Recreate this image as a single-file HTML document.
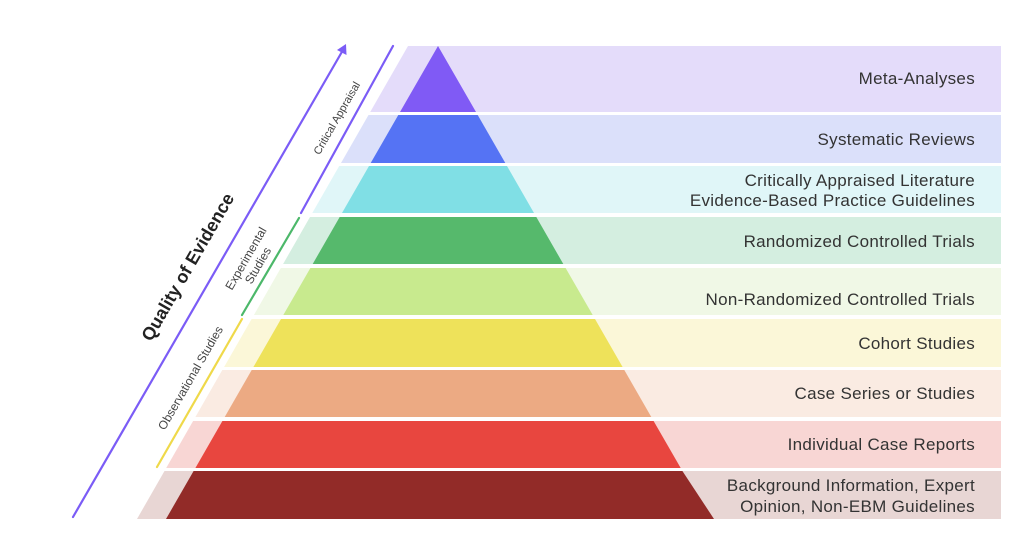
<!DOCTYPE html>
<html><head><meta charset="utf-8"><style>
html,body{margin:0;padding:0;background:#fff;width:1024px;height:560px;overflow:hidden}
svg{display:block}
text{font-family:"Liberation Sans",sans-serif}
</style></head><body>
<svg width="1024" height="560" viewBox="0 0 1024 560" xmlns="http://www.w3.org/2000/svg">
<g>
<polygon points="408,46 1001,46 1001,112 370.2,112" fill="#e4dcfa"/>
<polygon points="438,46 476,112 400,112" fill="#805af5"/>
<polygon points="368.5,115 1001,115 1001,163 341,163" fill="#dbe0fa"/>
<polygon points="398.3,115 477.7,115 505.3,163 370.7,163" fill="#5573f4"/>
<polygon points="339.2,166 1001,166 1001,213 312.3,213" fill="#e0f6f8"/>
<polygon points="369,166 507,166 534,213 342,213" fill="#80dfe5"/>
<polygon points="310,217 1001,217 1001,264 283.1,264" fill="#d4eee0"/>
<polygon points="339.7,217 536.3,217 563.3,264 312.7,264" fill="#56b96c"/>
<polygon points="280.8,268 1001,268 1001,315 253.9,315" fill="#f0f8e6"/>
<polygon points="310.4,268 565.6,268 592.7,315 283.3,315" fill="#c8ea8e"/>
<polygon points="251.6,319 1001,319 1001,367 224.1,367" fill="#fbf7d8"/>
<polygon points="281,319 595,319 622.6,367 253.4,367" fill="#eee25a"/>
<polygon points="222.3,370 1001,370 1001,417 195.4,417" fill="#faebe2"/>
<polygon points="251.7,370 624.3,370 651.3,417 224.7,417" fill="#ecaa83"/>
<polygon points="193.1,421 1001,421 1001,468 166.2,468" fill="#f8d6d4"/>
<polygon points="222.4,421 653.6,421 680.7,468 195.4,468" fill="#e8463f"/>
<polygon points="164.5,471 1001,471 1001,519 137,519" fill="#e8d6d4"/>
<polygon points="193.6,471 682.4,471 714,519 166,519" fill="#922b28"/>
</g>
<g font-size="17" letter-spacing="0.3" fill="#333" text-anchor="end">
<text x="975" y="84">Meta-Analyses</text>
<text x="975" y="145">Systematic Reviews</text>
<text x="975" y="186">Critically Appraised Literature</text>
<text x="975" y="206">Evidence-Based Practice Guidelines</text>
<text x="975" y="247">Randomized Controlled Trials</text>
<text x="975" y="305">Non-Randomized Controlled Trials</text>
<text x="975" y="349">Cohort Studies</text>
<text x="975" y="399">Case Series or Studies</text>
<text x="975" y="450">Individual Case Reports</text>
<text x="975" y="491">Background Information, Expert</text>
<text x="975" y="512">Opinion, Non-EBM Guidelines</text>
</g>
<g stroke-width="2.2" stroke-linecap="round">
<line x1="73" y1="517" x2="343" y2="50" stroke="#7b5cf6"/>
<polygon points="346,44 346.5,55 337,50" fill="#7b5cf6"/>
<line x1="393" y1="46" x2="301" y2="213" stroke="#7b5cf6"/>
<line x1="299" y1="218" x2="242" y2="315" stroke="#4cb86a"/>
<line x1="242" y1="319" x2="157" y2="467" stroke="#efd94a"/>
</g>
<g fill="#444" text-anchor="middle">
<text transform="translate(193,270) rotate(-60)" font-size="18" font-weight="bold" fill="#222">Quality of Evidence</text>
<text transform="translate(340,120) rotate(-60)" font-size="11">Critical Appraisal</text>
<text transform="translate(252,262) rotate(-60)" font-size="12"><tspan x="0" y="-3">Experimental</tspan><tspan x="0" y="11">Studies</tspan></text>
<text transform="translate(194,380) rotate(-60)" font-size="12">Observational Studies</text>
</g>
</svg>
</body></html>
